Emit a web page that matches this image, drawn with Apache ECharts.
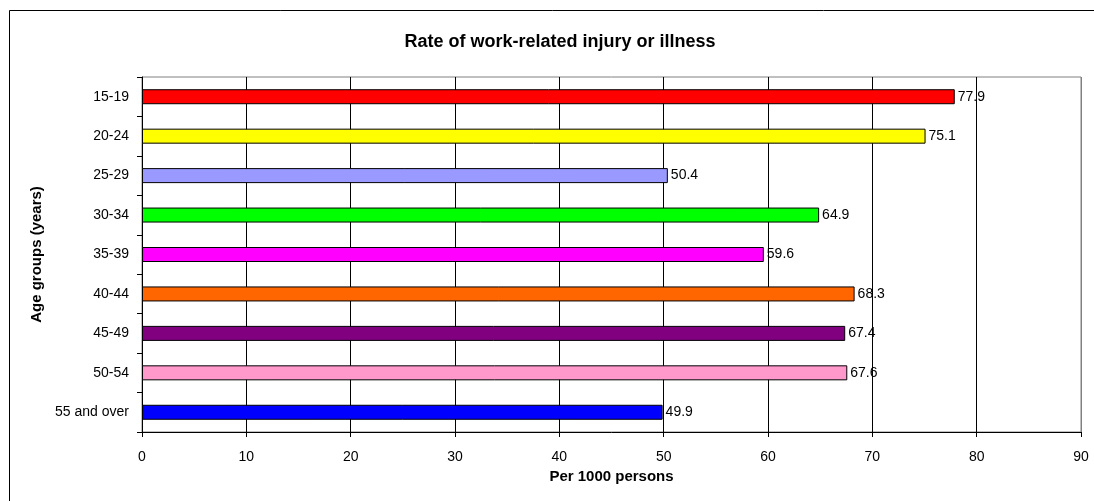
<!DOCTYPE html>
<html>
<head>
<meta charset="utf-8">
<script src="https://cdn.jsdelivr.net/npm/echarts@6/dist/echarts.min.js"></script>
<style>
  html, body { margin: 0; padding: 0; background: #fff; }
  #chart { width: 1094px; height: 501px; }
</style>
</head>
<body>
<div id="chart"></div>
<script>
// data
const ageGroups = ["15-19", "20-24", "25-29", "30-34", "35-39", "40-44", "45-49", "50-54", "55 and over"];
const ratePer1000 = [77.9, 75.1, 50.4, 64.9, 59.6, 68.3, 67.4, 67.6, 49.9];
const barColors = ["#FF0000", "#FFFF00", "#9999FF", "#00FF00", "#FF00FF", "#FF6600", "#800080", "#FF99CC", "#0000FF"];

const chart = echarts.init(document.getElementById("chart"));

// split lines: black inside, last one (90) is the grey plot border
const splitColors = ["#000", "#000", "#000", "#000", "#000", "#000", "#000", "#000", "#000", "#808080"];

const option = {
  animation: false,
  textStyle: { fontFamily: "Liberation Sans, Arial, sans-serif" },
  title: {
    text: "Rate of work-related injury or illness",
    left: 555,
    top: 28,
    textAlign: "center",
    textStyle: { fontSize: 18, fontWeight: "bold", color: "#000" }
  },
  graphic: [
    {
      type: "rect",
      shape: { x: 9.5, y: 10.5, width: 1200, height: 600 },
      style: { fill: "none", stroke: "#000", lineWidth: 1 },
      silent: true
    }
  ],
  grid: {
    left: 142,
    top: 77,
    width: 939,
    height: 355,
    show: true,
    borderColor: "#808080",
    borderWidth: 1,
    backgroundColor: "#fff"
  },
  xAxis: {
    type: "value",
    min: 0,
    max: 90,
    interval: 10,
    name: "Per 1000 persons",
    nameLocation: "middle",
    nameGap: 34,
    nameTextStyle: { fontSize: 15, fontWeight: "bold", color: "#000" },
    axisLine: { show: true, lineStyle: { color: "#000", width: 1 } },
    axisTick: { show: true, length: 5, lineStyle: { color: "#000" } },
    axisLabel: { fontSize: 14, color: "#000", margin: 18 },
    splitLine: { show: true, lineStyle: { color: splitColors, width: 1 } }
  },
  yAxis: {
    type: "category",
    data: ageGroups,
    inverse: true,
    name: "Age groups (years)",
    nameLocation: "middle",
    nameGap: 96,
    nameRotate: 90,
    nameTextStyle: { fontSize: 15, fontWeight: "bold", color: "#000" },
    axisLine: { show: true, lineStyle: { color: "#000", width: 1 } },
    axisTick: { show: true, length: 5, inside: false, lineStyle: { color: "#000" } },
    axisLabel: { fontSize: 14, color: "#000", margin: 13 },
    splitLine: { show: false }
  },
  series: [
    {
      type: "bar",
      data: ratePer1000.map((v, i) => ({
        value: v,
        itemStyle: { color: barColors[i] }
      })),
      barWidth: 15,
      itemStyle: { borderColor: "#000", borderWidth: 1 },
      label: {
        show: true,
        position: "right",
        distance: 3,
        fontSize: 14,
        color: "#000",
        formatter: (p) => p.value.toFixed(1)
      }
    }
  ]
};

chart.setOption(option);
</script>
</body>
</html>
